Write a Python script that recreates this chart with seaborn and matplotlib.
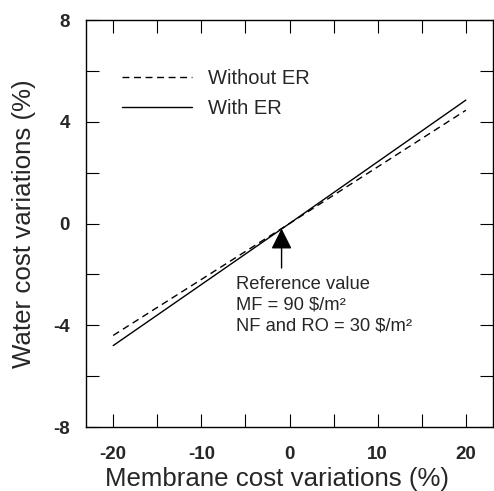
import matplotlib
matplotlib.use("Agg")
import matplotlib.pyplot as plt
import pandas as pd
import seaborn as sns

# membrane cost variation (%) vs water cost variation (%)
membrane_var = [-20, 0, 20]
without_er = [-4.4, 0, 4.45]
with_er = [-4.8, 0, 4.85]
x_ticks = [-20, -10, 0, 10, 20]
y_ticks = [-8, -4, 0, 4, 8]

df = pd.DataFrame({
    'membrane': membrane_var * 2,
    'water': without_er + with_er,
    'case': ['Without ER'] * 3 + ['With ER'] * 3,
})

sns.set_style('ticks')
plt.rcParams['font.family'] = ['Liberation Sans', 'DejaVu Sans']
plt.rcParams['axes.unicode_minus'] = False

fig = plt.figure(figsize=(4.94, 4.91), dpi=100)
ax = fig.add_axes([86.3 / 494, 1 - 427 / 491, 406.4 / 494, 407 / 491])

sns.lineplot(data=df, x='membrane', y='water', hue='case', style='case',
             palette=['black', 'black'], dashes={'Without ER': (5, 3.3), 'With ER': ''},
             linewidth=1.0, ax=ax)

ax.set_xlim(-23.05, 23.05)
ax.set_ylim(-8, 8)
ax.set_xticks(x_ticks)
ax.set_yticks(y_ticks)
ax.set_xticks([-15, -5, 5, 15], minor=True)
ax.set_yticks([-6, -2, 2, 6], minor=True)
ax.tick_params(which='both', direction='in', length=9.5, width=0.8,
               top=True, right=True, color='black')
ax.tick_params(axis='x', which='major', pad=13.5)
ax.tick_params(axis='y', which='major', pad=12)
for lab in ax.get_xticklabels() + ax.get_yticklabels():
    lab.set_fontweight('bold')
    lab.set_fontsize(13.5)
for s in ax.spines.values():
    s.set_linewidth(1.0)
    s.set_color('black')

ax.set_xlabel('Membrane cost variations (%)', fontsize=18.6, labelpad=3)
ax.xaxis.label.set_x(0.469)
ax.set_ylabel('Water cost variations (%)', fontsize=18.6, labelpad=12)

ax.legend(loc='upper left', bbox_to_anchor=(0.088, 0.88), frameon=False,
          fontsize=14.5, handlelength=3.45, handletextpad=0.8, labelspacing=0.54,
          borderpad=0, borderaxespad=0)

ax.annotate('', xy=(-0.9, -0.2), xytext=(-0.9, -1.75),
            arrowprops=dict(arrowstyle='-|>,head_length=1.27,head_width=0.64',
                            color='black', lw=1.0, shrinkA=0, shrinkB=0))
ax.text(-6.1, -2.05, 'Reference value\nMF = 90 $/m²\nNF and RO = 30 $/m²',
        fontsize=13.2, va='top', ha='left', linespacing=1.3)

fig.savefig('out.png', dpi=100)
